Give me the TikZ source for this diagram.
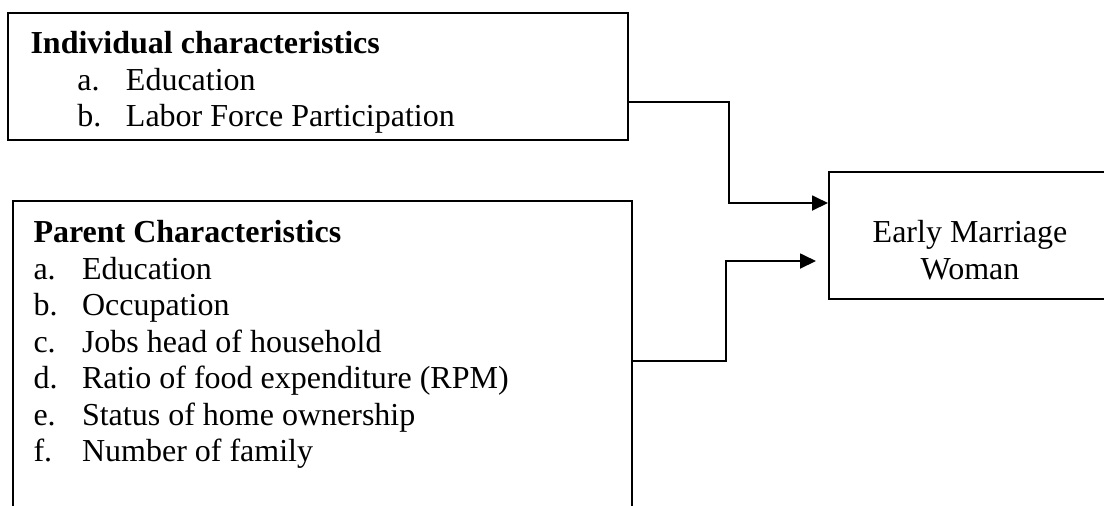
\documentclass[tikz,border=0pt]{standalone}
\usepackage{fontspec}
\setmainfont{Liberation Serif}
\usepackage{tikz}
\usetikzlibrary{positioning,calc,fit}
\usetikzlibrary{arrows.meta}

\newcommand{\itm}[2]{\makebox[18.2pt][l]{#1}#2}

\begin{document}
\begin{tikzpicture}[x=0.375pt,y=-0.375pt,
    box/.style={draw,line width=0.75pt,inner sep=0pt},
    list/.style={anchor=north west,inner sep=0pt,align=left,font=\fontsize{12}{13.7}\selectfont},
    flow/.style={draw,line width=0.75pt,-{Triangle[length=6pt,width=5.6pt]}}]
        \useasboundingbox (0,0) rectangle (1104,505);
        \clip (0,0) rectangle (1104,505);
        % the three boxes
        \node[box,fit={(8,13) (628,140)}] (indiv) {};
        \node[box,fit={(13,201) (632,560)}] (parent) {};
        \node[box,fit={(829,172) (1111,299)}] (early) {};
        % box texts
        \node[list] (indivtxt) at (30,31) {\textbf{Individual characteristics}\\
            \hspace*{17.6pt}\itm{a.}{Education}\\
            \hspace*{17.6pt}\itm{b.}{Labor Force Participation}};
        \node[list] (parenttxt) at (33,220) {\textbf{Parent Characteristics}\\
            \itm{a.}{Education}\\
            \itm{b.}{Occupation}\\
            \itm{c.}{Jobs head of household}\\
            \itm{d.}{Ratio of food expenditure (RPM)}\\
            \itm{e.}{Status of home ownership}\\
            \itm{f.}{Number of family}};
        \node[list,anchor=north,align=center] (earlytxt) at (970,220) {Early Marriage\\Woman};
        % connectors
        \draw[flow] (indiv.east |- 0,102) -| (729,203) -- (early.west |- 0,203);
        \draw[flow,shorten >=4.5pt] (parent.east |- 0,361) -| (726,261) -- (early.west |- 0,261);
    \end{tikzpicture}
\end{document}
